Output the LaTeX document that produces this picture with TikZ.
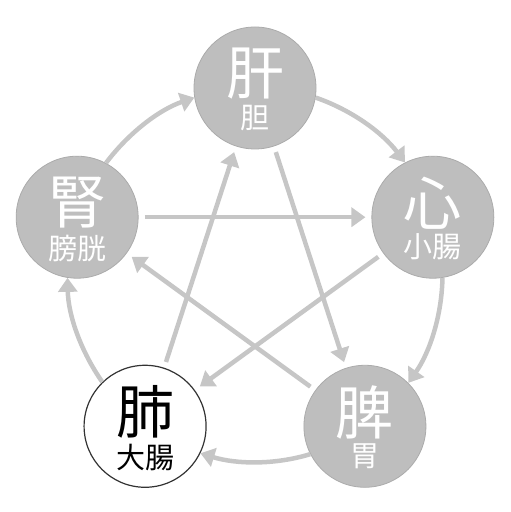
\documentclass[tikz,border=0pt]{standalone}
\usepackage{fontspec}
\newfontfamily\cjk{Noto Sans CJK JP}
\usetikzlibrary{arrows.meta,calc}
\definecolor{organfill}{HTML}{BEBEBE}
\definecolor{organline}{HTML}{ABABAB}
\definecolor{arrowc}{HTML}{C6C6C6}
\definecolor{lungline}{HTML}{333333}
\tikzset{
  organ/.style={circle, minimum size=122bp, inner sep=0pt, fill=organfill, draw=organline, line width=0.8bp},
  lung/.style={circle, minimum size=122bp, inner sep=0pt, fill=white, draw=lungline, line width=1.2bp},
  bigtxt/.style={inner sep=0pt, font=\cjk\fontsize{58bp}{62bp}\selectfont, text=white},
  smalltxt/.style={inner sep=0pt, font=\cjk\fontsize{29bp}{32bp}\selectfont, text=white},
  flow/.style={draw=arrowc, line width=4.5bp, -{Triangle[length=14bp,width=19bp]}},
  ctrl/.style={flow, shorten <=6bp, shorten >=6bp},
  cyc/.style={flow, looseness=0.87}
}
\begin{document}
\begin{tikzpicture}[x=1bp,y=1bp]
\useasboundingbox (0,0) rectangle (511,512);
\coordinate (C) at (255,237);
\node[organ] (gan)  at ($(C)+(90:187)$) {};
\node[organ] (xin)  at ($(C)+(18:187)$) {};
\node[organ] (pi)   at ($(C)+(-54:187)$) {};
\node[lung]  (fei)  at ($(C)+(-126:187)$) {};
\node[organ] (shen) at ($(C)+(162:187)$) {};

\node[bigtxt]   (gan1)  at ([yshift=14bp]gan) {肝};
\node[smalltxt] (gan2)  at ([yshift=-30bp]gan) {胆};
\node[bigtxt]   (xin1)  at ([yshift=14bp]xin) {心};
\node[smalltxt] (xin2)  at ([yshift=-30bp]xin) {小腸};
\node[bigtxt]   (pi1)   at ([yshift=14bp]pi) {脾};
\node[smalltxt] (pi2)   at ([yshift=-30bp]pi) {胃};
\node[bigtxt, text=black]   (fei1)  at ([yshift=14bp]fei) {肺};
\node[smalltxt, text=black] (fei2)  at ([yshift=-31bp]fei) {大腸};
\node[bigtxt]   (shen1) at ([yshift=15bp]shen) {腎};
\node[smalltxt] (shen2) at ([yshift=-31bp]shen) {膀胱};

% generating cycle
\draw[cyc] (gan.-9.5)   to[out=-19, in=127] (xin.117.5);
\draw[cyc] (xin.-81.5)  to[out=-91, in=55]  (pi.45.5);
\draw[cyc] (pi.-153.5)  to[out=-163, in=-17] (fei.-26.5);
\draw[cyc] (fei.134.5)  to[out=125, in=271] (shen.261.5);
\draw[cyc] (shen.62.5)  to[out=53, in=199]  (gan.189.5);

% controlling star
\draw[ctrl] (gan) -- (pi);
\draw[ctrl] (pi) -- (shen);
\draw[ctrl] (shen) -- (xin);
\draw[ctrl] (xin) -- (fei);
\draw[ctrl] (fei) -- (gan);
\end{tikzpicture}
\end{document}
